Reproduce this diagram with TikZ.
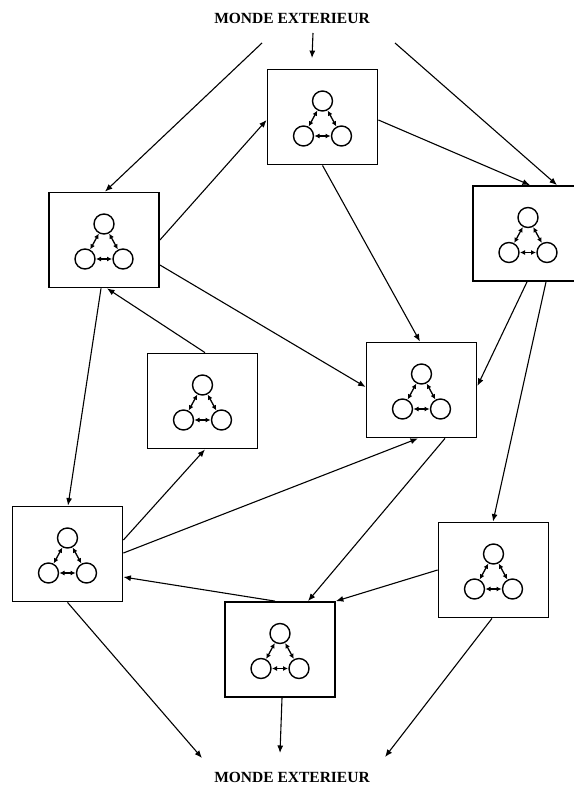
\documentclass[tikz,border=0pt]{standalone}
\usepackage{fontspec}
\setmainfont{Liberation Serif}
\usetikzlibrary{arrows.meta,calc}
\tikzset{
  grpbox/.style={draw, line width=1.8pt, minimum width=110pt, minimum height=95pt, inner sep=0pt},
  cell/.style={draw, circle, line width=1.4pt, minimum size=20pt, inner sep=0pt},
  inarr/.style={{Latex[length=5pt,width=5pt]}-{Latex[length=5pt,width=5pt]}, line width=1.3pt, shorten <=0.3pt, shorten >=0.3pt},
  conn/.style={-{Latex[length=7.5pt,width=6pt]}, line width=1.1pt},
  world/.style={font=\bfseries\fontsize{15.5}{18}\selectfont, inner sep=0pt}
}
\newcommand\grp[2]{%
  \node[grpbox] (#1) at (#2) {};
  \node[cell] (#1t) at ($(#1.center)+(0,-16)$) {};
  \node[cell] (#1l) at ($(#1.center)+(-19,19)$) {};
  \node[cell] (#1r) at ($(#1.center)+(19,19)$) {};
  \draw[inarr] (#1t) -- (#1l);
  \draw[inarr] (#1t) -- (#1r);
  \draw[inarr] (#1l) -- (#1r);
}
\begin{document}
\begin{tikzpicture}[x=1pt,y=-1pt]
\useasboundingbox (0,0) rectangle (573,786);
\fill[white] (0,0) rectangle (573,786);
\node[world] (T) at (292,18) {MONDE EXTERIEUR};
\node[world] (W) at (292,777) {MONDE EXTERIEUR};
\grp{A}{322.5,117}
\grp{B}{104,240}
\grp{C}{528,233.5}
\grp{D}{202.5,401}
\grp{E}{421.5,390}
\grp{F}{67.5,554}
\grp{G}{493.5,570}
\grp{H}{280,649.5}
% from the outside world
\draw[conn] ($(T.center)+(21,15)$) -- ($(A.north)+(-10.5,-10.5)$);
\draw[conn] ($(T.center)+(-30,25)$) -- ($(B.north)+(1,0)$);
\draw[conn] ($(T.center)+(103,25)$) -- ($(C.north)+(29,0)$);
% between groups
\draw[conn] ($(A.east)+(0,3)$) -- ($(C.north)+(2,0)$);
\draw[conn] (A.south) -- ($(E.north)+(-1.5,0)$);
\draw[conn] (B.east) -- ($(A.west)+(0,3)$);
\draw[conn] ($(B.east)+(0,25)$) -- ($(E.west)+(0,-3)$);
\draw[conn] ($(D.north)+(2.5,0)$) -- ($(B.south)+(3,0)$);
\draw[conn] ($(B.south)+(-3,0)$) -- ($(F.north)+(0.5,0)$);
\draw[conn] ($(C.south)+(-1,0)$) -- ($(E.east)+(0,-4)$);
\draw[conn] ($(C.south)+(18,0)$) -- ($(G.north)+(-0.5,0)$);
\draw[conn] ($(F.east)+(0,-14)$) -- ($(D.south)+(2.5,0)$);
\draw[conn] ($(F.east)+(0,-1)$) -- ($(E.south)+(-3.5,0)$);
\draw[conn] ($(E.south)+(23.5,0)$) -- ($(H.north)+(28,0)$);
\draw[conn] (G.west) -- (H.north east);
\draw[conn] ($(H.north)+(-5,0)$) -- ($(F.east)+(0,23)$);
% to the outside world
\draw[conn] (F.south) -- ($(W.center)+(-90,-19)$);
\draw[conn] ($(H.south)+(2,0)$) -- ($(W.center)+(-12,-24)$);
\draw[conn] ($(G.south)+(-1.5,0)$) -- ($(W.center)+(93,-20)$);
\end{tikzpicture}
\end{document}
